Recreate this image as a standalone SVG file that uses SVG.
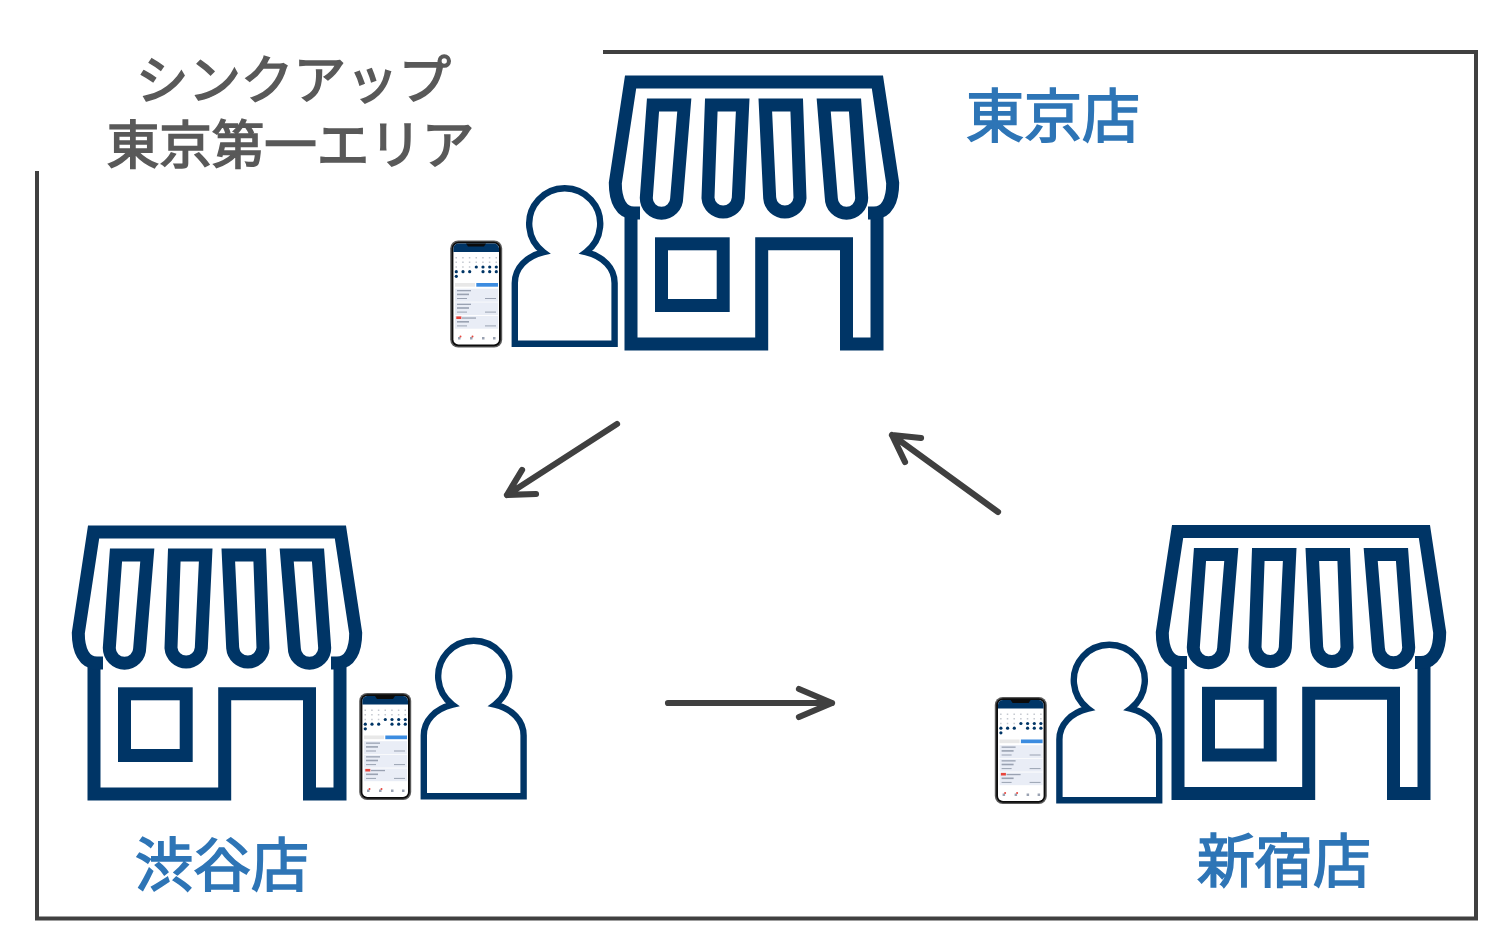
<svg xmlns="http://www.w3.org/2000/svg" xmlns:xlink="http://www.w3.org/1999/xlink" width="1512" height="945" viewBox="0 0 1512 945">
<style>
.s{fill:none;stroke:#003566;stroke-width:13;stroke-miterlimit:6}
.p{fill:#fff;stroke:#003566;stroke-width:6.4;stroke-miterlimit:8}
.c{fill:none;stroke:#404040;stroke-width:6.2;stroke-linecap:round;stroke-linejoin:round}
.l{font-family:"Noto Sans CJK JP","Noto Sans CJK SC",sans-serif;font-size:58px;fill:#2e75b6;stroke:#2e75b6;stroke-width:1.7}
.t{font-family:"Noto Sans CJK JP","Noto Sans CJK SC",sans-serif;font-size:52.5px;fill:#595959;stroke:#595959;stroke-width:1.7;text-anchor:middle}
.n{fill:#003566}.k{fill:#e9edf6}.d{fill:#9aa2b2}
.dots{fill:none;stroke:#c4c8cf;stroke-width:1.5;stroke-dasharray:1.5 5.17}
</style>
<defs>
<g id="store">
<path class="s" d="M631 213V344H761.7V243.8H846.5V344H877V213"/>
<rect class="s" x="661.5" y="243.8" width="61.7" height="61.7"/>
<path class="s" d="M640 213H634C621 213 615.3 200 615.3 183L630.6 82H877.4L892.7 183C892.7 200 887 213 874 213H868"/>
<path class="s" d="M653 105H684.3L676.7 198A15.2 15.2 0 0 1 646.3 198Z"/>
<path class="s" d="M711.3 105H742.7L738.3 198A15.2 15.2 0 0 1 708 198Z"/>
<path class="s" d="M765.3 105H796.7L800 198A15.2 15.2 0 0 1 769.7 198Z"/>
<path class="s" d="M823.7 105H855L861.7 198A15.2 15.2 0 0 1 831.3 198Z"/>
</g>
<g id="user">
<path class="p" d="M514.8 343.8V283C514.8 268 526 256.5 543.5 252.2A35.5 35.5 0 1 1 585.9 252.2C603.4 256.5 614.6 268 614.6 283V343.8Z"/>
<rect x="450.2" y="240.4" width="52" height="107.2" rx="8" fill="#5a5a5a"/>
<rect x="451.6" y="241.8" width="49.2" height="104.4" rx="7" fill="#0b0b0b"/>
<rect x="453.4" y="243.6" width="45.6" height="100.8" rx="5" fill="#fff"/>
<path class="n" d="M453.4 252V248.6A5 5 0 0 1 458.4 243.6H493.9A5 5 0 0 1 499 248.6V252Z"/>
<path d="M466 243.6H486L484 246.5H468Z" fill="#0b0b0b"/>
<path class="dots" d="M455.5 257.7H498M455.5 262.3H498M455.5 267H476"/>
<g class="n">
<circle cx="476.3" cy="267" r="1.6"/><circle cx="483" cy="267" r="1.6"/><circle cx="489.7" cy="267" r="1.6"/><circle cx="496.3" cy="267" r="1.6"/>
<circle cx="456.3" cy="271.7" r="1.6"/><circle cx="463" cy="271.7" r="1.6"/><circle cx="469.7" cy="271.7" r="1.6"/><circle cx="483" cy="271.7" r="1.6"/><circle cx="489.7" cy="271.7" r="1.6"/><circle cx="496.3" cy="271.7" r="1.6"/>
<circle cx="456.3" cy="276.3" r="1.6"/>
</g>
<rect x="455" y="283" width="20" height="3.7" fill="#e8e8e8"/>
<rect x="476.3" y="283" width="21.7" height="3.7" fill="#3c8ce0"/>
<g class="k"><rect x="455" y="288.7" width="43" height="13"/><rect x="455" y="302.4" width="43" height="12.7"/><rect x="455" y="316" width="43" height="12.7"/></g>
<g class="d">
<rect x="457" y="290" width="14" height="1.3"/><rect x="457" y="293.6" width="12" height="1.6"/><rect x="457" y="298" width="10" height="1"/>
<rect x="457" y="303.7" width="14" height="1.3"/><rect x="457" y="307.2" width="12" height="1.6"/><rect x="457" y="311.6" width="10" height="1"/>
<rect x="462" y="317.4" width="14" height="1.3"/><rect x="457" y="321" width="12" height="1.6"/><rect x="457" y="325.4" width="10" height="1"/>
<rect x="485" y="298" width="11" height="1"/><rect x="485" y="311.6" width="11" height="1"/><rect x="485" y="325.4" width="11" height="1"/>
<rect x="458" y="337" width="2.5" height="2.5"/><rect x="470" y="337" width="2.5" height="2.5"/><rect x="482" y="337" width="2.5" height="2.5"/><rect x="493" y="337" width="2.5" height="2.5"/>
</g>
<rect x="456.3" y="316.4" width="5" height="2.6" fill="#e8453c"/>
<circle cx="460.5" cy="336.5" r="1" fill="#e8453c"/><circle cx="472.5" cy="336.5" r="1" fill="#e8453c"/>
</g>
</defs>
<rect width="1512" height="945" fill="#fff"/>
<path id="area-frame" d="M37 171V918.5H1476V52H603" fill="none" stroke="#404040" stroke-width="4"/>
<text class="t" x="293.5" y="99">シンクアップ</text>
<text class="t" x="290.5" y="164">東京第一エリア</text>
<g id="connectors">
<path class="c" d="M617 424L507 495M522 470L507 495L536 494"/>
<path class="c" d="M668 703H832M799 689L832 703L799 717"/>
<path class="c" d="M998 512L892 435M921 438L892 435L905 462"/>
</g>
<g id="node-tokyo">
<use href="#store" xlink:href="#store"/>
<use href="#user" xlink:href="#user"/>
<text class="l" x="966" y="136.5">東京店</text>
</g>
<g id="node-shibuya">
<use href="#store" xlink:href="#store" transform="translate(-537 450)"/>
<use href="#user" xlink:href="#user" transform="translate(-91 452.5)"/>
<text class="l" x="135" y="885.5">渋谷店</text>
</g>
<g id="node-shinjuku">
<use href="#store" xlink:href="#store" transform="translate(547 449.5)"/>
<use href="#user" xlink:href="#user" transform="translate(544.6 456.5)"/>
<text class="l" x="1197" y="881.5">新宿店</text>
</g>
</svg>
